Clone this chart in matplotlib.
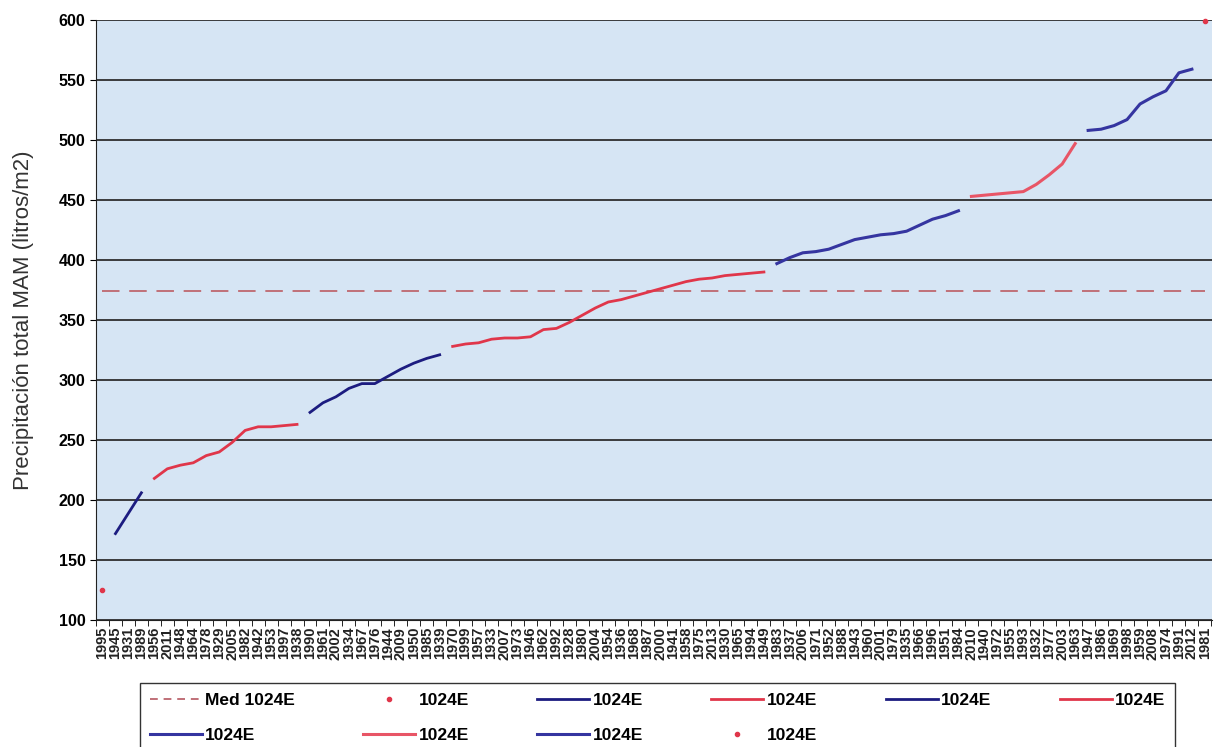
import numpy as np
import matplotlib
matplotlib.use("Agg")
import matplotlib.pyplot as plt
from matplotlib.lines import Line2D

plt.rcParams['font.family'] = ['Liberation Sans', 'DejaVu Sans']

# años ordenados de menor a mayor precipitacion (MAM, estacion 1024E)
years = [1995, 1945, 1931, 1989, 1956, 2011, 1948, 1964, 1978, 1929, 2005, 1982,
         1942, 1953, 1997, 1938, 1990, 1961, 2002, 1934, 1967, 1976, 1944, 2009,
         1950, 1985, 1939, 1970, 1999, 1957, 1933, 2007, 1973, 1946, 1962, 1992,
         1928, 1980, 2004, 1954, 1936, 1968, 1987, 2000, 1941, 1958, 1975, 2013,
         1930, 1965, 1994, 1949, 1983, 1937, 2006, 1971, 1952, 1988, 1943, 1960,
         2001, 1979, 1935, 1966, 1996, 1951, 1984, 2010, 1940, 1972, 1955, 1993,
         1932, 1977, 2003, 1963, 1947, 1986, 1969, 1998, 1959, 2008, 1974, 1991,
         2012, 1981]

# valores por tramo (litros/m2)
val_min = [125]
tramo1 = [172, 189, 206]
tramo2 = [218, 226, 229, 231, 237, 240, 248, 258, 261, 261, 262, 263]
tramo3 = [273, 281, 286, 293, 297, 297, 303, 309, 314, 318, 321]
tramo4 = [328, 330, 331, 334, 335, 335, 336, 342, 343, 348, 354, 360, 365,
          367, 370, 373, 376, 379, 382, 384, 385, 387, 388, 389, 390]
tramo5 = [397, 402, 406, 407, 409, 413, 417, 419, 421, 422, 424, 429, 434, 437, 441]
tramo6 = [453, 454, 455, 456, 457, 463, 471, 480, 497]
tramo7 = [508, 509, 512, 517, 530, 536, 541, 556, 559]
val_max = [599]

series = [val_min, tramo1, tramo2, tramo3, tramo4, tramo5, tramo6, tramo7, val_max]
todos = np.concatenate(series)
mediana = np.median(todos)
n = len(todos)

c_azul = '#1c1c80'
c_rojo = '#e0364a'
c_azul2 = '#3535a0'
c_rojo2 = '#e85566'
estilos = [
    dict(color=c_rojo, lw=0, marker='o', ms=3),
    dict(color=c_azul, lw=2),
    dict(color=c_rojo, lw=2),
    dict(color=c_azul, lw=2),
    dict(color=c_rojo, lw=2),
    dict(color=c_azul2, lw=2.2),
    dict(color=c_rojo2, lw=2.2),
    dict(color=c_azul2, lw=2.2),
    dict(color=c_rojo, lw=0, marker='o', ms=3),
]

fig = plt.figure(figsize=(12.14, 7.47), dpi=100)
ax = fig.add_axes([96/1214, 1-620/747, 1116/1214, 600/747])
ax.set_facecolor('#d6e5f4')

for yv in range(100, 601, 50):
    ax.axhline(yv, color='#2e2e2e', lw=1.3, zorder=1)

ax.plot(np.arange(n), np.full(n, mediana), color='#c07078', lw=1.4,
        dashes=(9, 5), zorder=2)

inicio = 0
for vals, st in zip(series, estilos):
    x = np.arange(inicio, inicio + len(vals))
    ax.plot(x, vals, zorder=3, clip_on=False, **st)
    inicio += len(vals)

ax.set_xlim(-0.35, n - 0.45)
ax.set_ylim(100, 600)
ax.set_yticks(range(100, 601, 50))
ax.set_xticks(np.arange(n))
ax.set_xticklabels([str(a) for a in years], rotation=90, fontsize=10.5,
                   fontweight='bold', color='#222222')
ax.set_xticks(np.arange(n + 1) - 0.5, minor=True)
ax.tick_params(axis='x', which='major', length=0, pad=5)
ax.tick_params(axis='x', which='minor', length=4, direction='out')
ax.tick_params(axis='y', length=4, labelsize=11.5)
for t in ax.get_yticklabels():
    t.set_fontweight('bold')
ax.spines['top'].set_visible(False)
ax.spines['right'].set_visible(False)
ax.spines['left'].set_color('#222222')
ax.spines['bottom'].set_color('#222222')
ax.set_ylabel('Precipitación total MAM (litros/m2)', fontsize=16, labelpad=18,
              color='#333333')

# leyenda (orden por filas con 6 columnas)
etiqueta = '1024E'
h_med = Line2D([], [], color='#c07078', lw=1.4, dashes=(4, 3))
hs = [Line2D([], [], **st) for st in estilos]
h_all = [h_med] + hs
l_all = ['Med ' + etiqueta] + [etiqueta] * len(hs)
orden = [0, 6, 1, 7, 2, 8, 3, 9, 4, 5]
leg = fig.legend([h_all[i] for i in orden], [l_all[i] for i in orden],
                 loc='upper left', ncol=6, mode='expand',
                 bbox_to_anchor=(140/1214, 0, 1035/1214, 1-683/747),
                 prop=dict(weight='bold', size=12.5), handlelength=3.0,
                 handletextpad=0.2, fancybox=False, framealpha=1,
                 edgecolor='#333333', borderpad=0.55, labelspacing=1.15,
                 borderaxespad=0)

fig.savefig('out.png', dpi=100)
